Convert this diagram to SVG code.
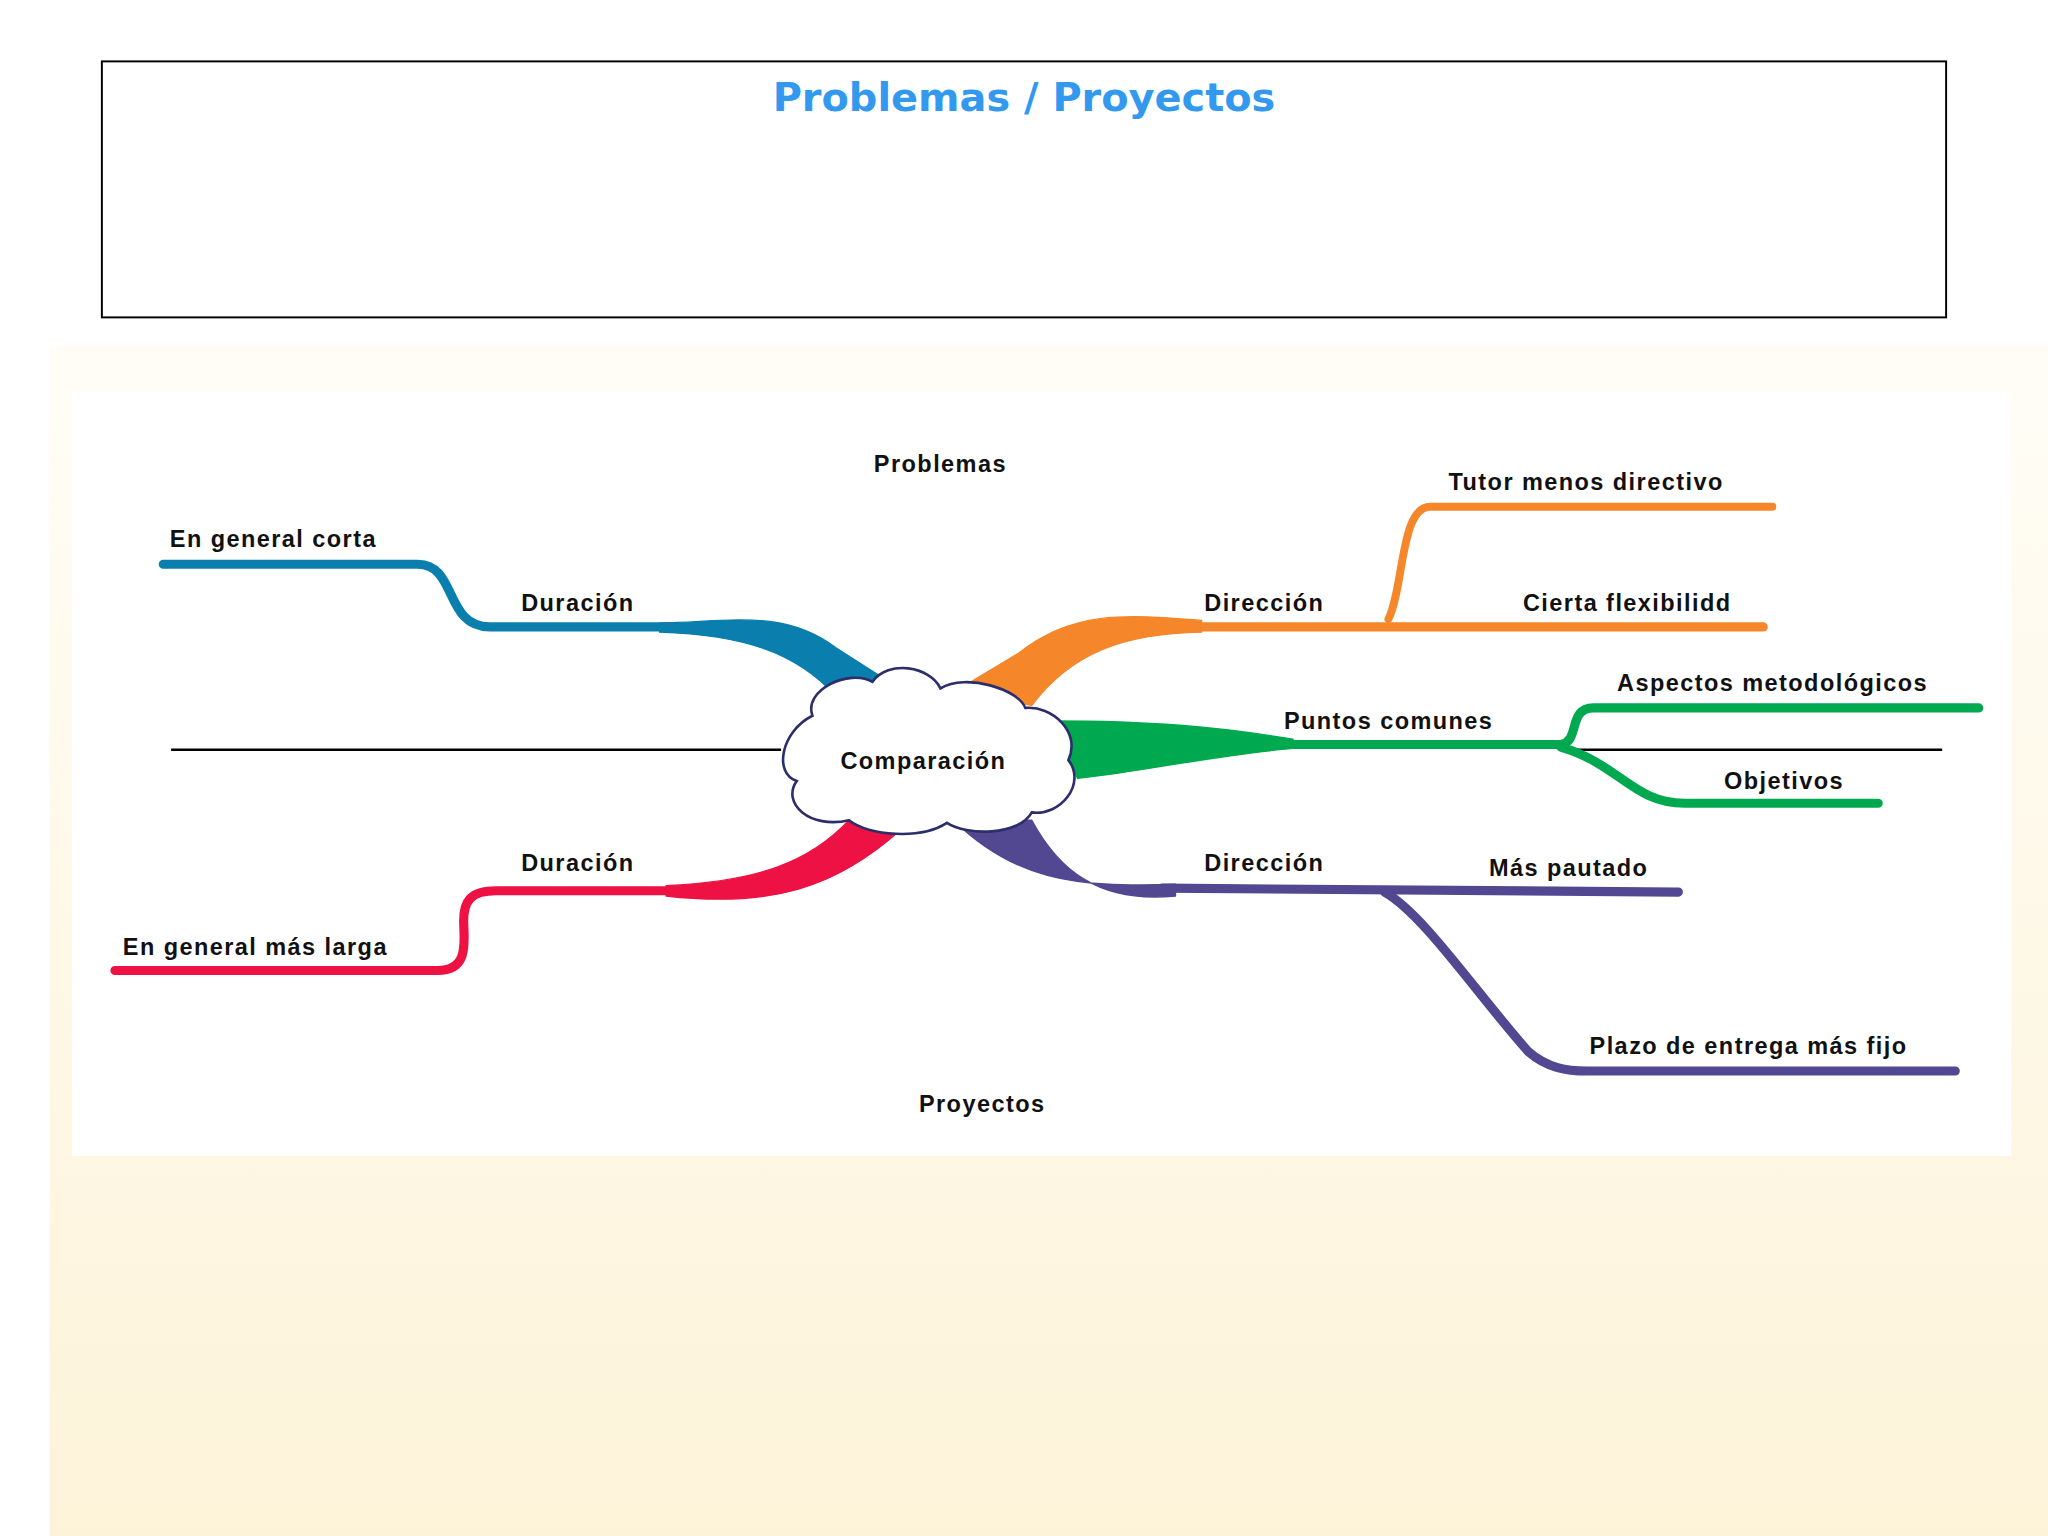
<svg xmlns="http://www.w3.org/2000/svg" width="2048" height="1536" viewBox="0 0 2048 1536">
<defs>
<linearGradient id="bg" x1="0" y1="0" x2="0" y2="1"><stop offset="0" stop-color="#fffdf6"/><stop offset="1" stop-color="#fdf3d9"/></linearGradient>
<style>
.lb{font-family:"Liberation Sans",Arial,sans-serif;font-weight:bold;font-size:18px;letter-spacing:1.1px;fill:#111}
.th{fill:none;stroke-linecap:round;stroke-linejoin:round}
</style>
</defs>
<rect width="2048" height="1536" fill="#fff"/>
<g transform="scale(1.30612)">
<rect x="38" y="265" width="1530" height="911" fill="url(#bg)"/>
<rect x="55" y="300" width="1485" height="585" fill="#fff"/>
<g id="title">
<rect x="78" y="47" width="1412" height="196" fill="#fff" stroke="#000" stroke-width="1.5"/>
<text x="784" y="85" text-anchor="middle" style="font-family:'DejaVu Sans',Verdana,sans-serif;font-weight:bold;font-size:30.5px;fill:#3399ee">Problemas / Proyectos</text>
</g>
<g id="axis"><line x1="131" y1="574" x2="598" y2="574" stroke="#000" stroke-width="2"/><line x1="1200" y1="574" x2="1487" y2="574" stroke="#000" stroke-width="2"/></g>
<g id="connectors">
<g stroke="#0a7fae" class="th">
<path d="M125,432 L320,432 C350,432 340,480 375,480 L515,480" stroke-width="7"/>
<path d="M505,477 C560,476 600,466 640,496 L690,528 L640,533 C610,500 570,486 505,484 Z" fill="#0a7fae" stroke-width="1"/>
</g>
<g stroke="#f5862a" class="th">
<path d="M910,480 L1350,480" stroke-width="7"/>
<path d="M1063,474 C1075,450 1072,388 1095,388 L1357,388" stroke-width="6"/>
<path d="M920,475 C860,470 820,468 780,500 L730,530 L790,540 C820,500 860,485 920,484 Z" fill="#f5862a" stroke-width="1"/>
</g>
<g stroke="#00a84f" class="th">
<path d="M980,570 L1195,570 C1210,568 1200,542 1220,542 L1515,542" stroke-width="7"/>
<path d="M1195,572 C1240,585 1250,615 1290,615 L1438,615" stroke-width="7"/>
<path d="M805,552 C880,552 930,556 990,566 L990,573 C930,578 880,590 825,596 Z" fill="#00a84f" stroke-width="1"/>
</g>
<g stroke="#ee1144" class="th">
<path d="M88,743 L335,743 C360,743 355,720 355,705 C355,690 360,682 380,682 L520,682" stroke-width="7"/>
<path d="M650,628 C620,660 580,675 510,678 L510,686 C590,695 640,680 690,635 Z" fill="#ee1144" stroke-width="1"/>
</g>
<g stroke="#524891" class="th">
<path d="M890,680 L1285,683" stroke-width="7"/>
<path d="M1060,683 C1090,700 1130,760 1170,805 C1185,818 1200,820 1215,820 L1497,820" stroke-width="7"/>
<path d="M730,628 C775,672 820,680 900,677 L900,686 C840,692 810,665 790,628 Z" fill="#524891" stroke-width="1"/>
</g>
</g>
<g id="cloud">
<path d="M622,548 C615,528 650,512 668,522 C680,505 712,510 720,527 C740,515 780,528 785,542 C805,540 828,560 818,582 C832,600 812,625 790,622 C780,640 740,640 725,630 C705,643 665,640 650,628 C620,635 598,615 610,598 C592,592 598,560 622,548 Z" fill="#fff" stroke="#2b2e6a" stroke-width="2"/>
<text x="707" y="589" text-anchor="middle" class="lb">Comparación</text>
</g>
<g id="labels">
<text x="720" y="361" text-anchor="middle" class="lb">Problemas</text>
<text x="752" y="851" text-anchor="middle" class="lb">Proyectos</text>
<text x="130" y="419" class="lb">En general corta</text>
<text x="399" y="468" class="lb">Duración</text>
<text x="922" y="468" class="lb">Dirección</text>
<text x="1109" y="375" class="lb">Tutor menos directivo</text>
<text x="1166" y="468" class="lb">Cierta flexibilidd</text>
<text x="1238" y="529" class="lb">Aspectos metodológicos</text>
<text x="983" y="558" class="lb">Puntos comunes</text>
<text x="1320" y="604" class="lb">Objetivos</text>
<text x="399" y="667" class="lb">Duración</text>
<text x="94" y="731" class="lb">En general más larga</text>
<text x="922" y="667" class="lb">Dirección</text>
<text x="1140" y="671" class="lb">Más pautado</text>
<text x="1217" y="807" class="lb">Plazo de entrega más fijo</text>
</g>
</g>
</svg>
